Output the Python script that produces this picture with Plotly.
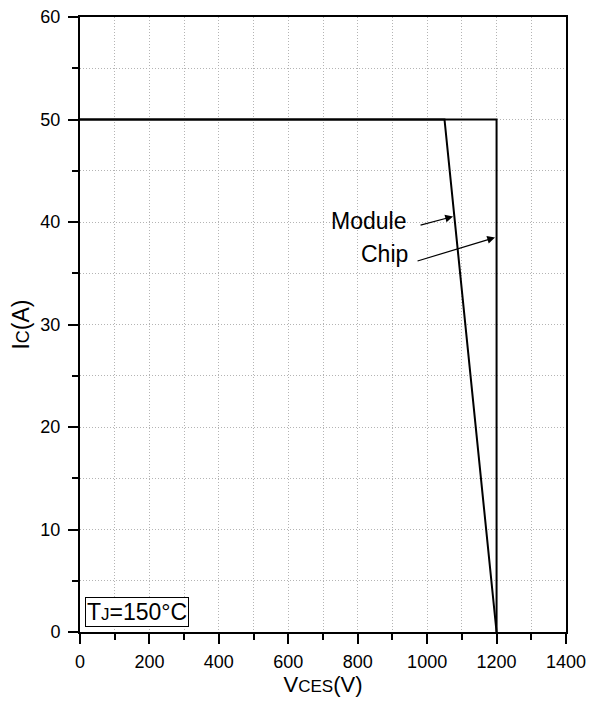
import plotly.graph_objects as go

# Data
chip_v = [0, 1200, 1200]
chip_i = [50, 50, 0]
module_v = [0, 1050, 1200]
module_i = [50, 50, 0]

x_range = [0, 1400]
y_range = [0, 60]


def sub(t, size):
    return "<span style='font-size:%dpx'>%s</span>" % (size, t)


font = dict(family="Liberation Sans, Arial, sans-serif", color="black")
GRID = dict(showgrid=True, gridcolor="#b4b4b4", griddash="1px,2px", gridwidth=1)

fig = go.Figure()
fig.add_trace(go.Scatter(x=chip_v, y=chip_i, mode="lines",
                         line=dict(color="black", width=2), showlegend=False))
fig.add_trace(go.Scatter(x=module_v, y=module_i, mode="lines",
                         line=dict(color="black", width=2), showlegend=False))

fig.update_layout(
    width=596, height=704,
    margin=dict(l=80, r=30, t=17, b=72, autoexpand=False),
    paper_bgcolor="white", plot_bgcolor="white",
    font=dict(size=18, **font),
    xaxis=dict(range=x_range, dtick=200, tick0=0, automargin=False,
               showline=True, linecolor="black", linewidth=2, mirror=True,
               ticks="outside", ticklen=10, tickwidth=2, tickcolor="black",
               zeroline=False, ticklabelstandoff=2,
               minor=dict(dtick=100, ticks="outside", ticklen=6, tickwidth=2,
                          tickcolor="black", **GRID),
               title=dict(text="V" + sub("CES", 17) + "(V)",
                          font=dict(size=22, **font), standoff=6),
               tickfont=dict(size=18, **font), **GRID),
    yaxis=dict(range=y_range, dtick=10, tick0=0, automargin=False,
               showline=True, linecolor="black", linewidth=2, mirror=True,
               ticks="outside", ticklen=10, tickwidth=2, tickcolor="black",
               zeroline=False, ticklabelstandoff=4,
               minor=dict(dtick=5, ticks="outside", ticklen=6, tickwidth=2,
                          tickcolor="black", **GRID),
               title=dict(text="I" + sub("C", 18) + "(A)",
                          font=dict(size=23, **font), standoff=4),
               tickfont=dict(size=18, **font), **GRID),
)

# Arrows
fig.add_annotation(x=1074.6, y=40.54, ax=-34, ay=9, xref="x", yref="y",
                   showarrow=True, arrowhead=2, arrowsize=1.3, arrowwidth=1.2,
                   arrowcolor="black", text="", standoff=0)
fig.add_annotation(x=1195.6, y=38.49, ax=-79, ay=24, xref="x", yref="y",
                   showarrow=True, arrowhead=2, arrowsize=1.3, arrowwidth=1.2,
                   arrowcolor="black", text="", standoff=0)

# Labels
fig.add_annotation(x=945, y=40.05, xref="x", yref="y", text="Module",
                   showarrow=False, font=dict(size=23, **font),
                   xanchor="right", yanchor="middle")
fig.add_annotation(x=950.7, y=36.86, xref="x", yref="y", text="Chip",
                   showarrow=False, font=dict(size=23, **font),
                   xanchor="right", yanchor="middle")

fig.add_annotation(x=0.011, y=0.008, xref="paper", yref="paper",
                   xanchor="left", yanchor="bottom",
                   text="T" + sub("J", 17) + "=150°C",
                   showarrow=False, font=dict(size=23, **font),
                   bordercolor="black", borderwidth=1, borderpad=1,
                   bgcolor="white")

fig.write_html("out.html")
